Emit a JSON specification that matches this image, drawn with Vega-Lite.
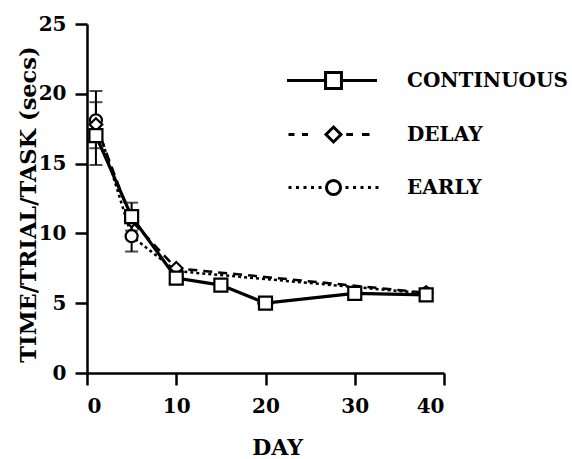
{
  "$schema": "https://vega.github.io/schema/vega-lite/v6.json",
  "autosize": {"type": "none"},
  "padding": {"left": 87, "top": 24, "right": 128, "bottom": 86},
  "width": 357,
  "height": 349,
  "background": "white",
  "config": {
    "view": {"stroke": null},
    "font": "DejaVu Serif",
    "axis": {
      "grid": false,
      "domainColor": "black",
      "domainWidth": 2.5,
      "tickColor": "black",
      "tickWidth": 2.5,
      "tickSize": 12,
      "labelFont": "DejaVu Serif",
      "labelFontWeight": "bold",
      "labelFontSize": 20,
      "labelColor": "black",
      "titleFont": "DejaVu Serif",
      "titleFontWeight": "bold",
      "titleColor": "black"
    }
  },
  "data": {
    "values": [
      {"group": "CONTINUOUS", "day": 1, "value": 17.0, "lo": 16.1, "hi": 19.4},
      {"group": "CONTINUOUS", "day": 5, "value": 11.2, "lo": 10.2, "hi": 12.2},
      {"group": "CONTINUOUS", "day": 10, "value": 6.8},
      {"group": "CONTINUOUS", "day": 15, "value": 6.3},
      {"group": "CONTINUOUS", "day": 20, "value": 5.0},
      {"group": "CONTINUOUS", "day": 30, "value": 5.7},
      {"group": "CONTINUOUS", "day": 38, "value": 5.6},
      {"group": "DELAY", "day": 1, "value": 17.8, "lo": 14.9, "hi": 20.2},
      {"group": "DELAY", "day": 5, "value": 10.9},
      {"group": "DELAY", "day": 10, "value": 7.5},
      {"group": "DELAY", "day": 38, "value": 5.75},
      {"group": "EARLY", "day": 1, "value": 18.1},
      {"group": "EARLY", "day": 5, "value": 9.8, "lo": 8.7, "hi": 10.9},
      {"group": "EARLY", "day": 10, "value": 7.3},
      {"group": "EARLY", "day": 38, "value": 5.7}
    ]
  },
  "encoding": {
    "x": {
      "field": "day",
      "type": "quantitative",
      "scale": {"domain": [0, 40], "nice": false, "zero": false},
      "axis": {
        "values": [0, 10, 20, 30, 40],
        "title": "DAY",
        "titleFontSize": 22,
        "titleColor": "black",
        "titleX": 190,
        "titleY": 81,
        "titleBaseline": "alphabetic",
        "labelPadding": 11,
        "labelBaseline": "top"
      }
    },
    "y": {
      "field": "value",
      "type": "quantitative",
      "scale": {"domain": [0, 25], "nice": false},
      "axis": {
        "values": [0, 5, 10, 15, 20, 25],
        "title": "TIME/TRIAL/TASK (secs)",
        "titleFontSize": 22.5,
        "titleColor": "black",
        "titleX": -59,
        "titleY": 180,
        "titleBaseline": "middle",
        "labelPadding": 9
      }
    }
  },
  "layer": [
    {
      "transform": [{"filter": "isValid(datum.lo)"}],
      "mark": {"type": "rule", "color": "black", "strokeWidth": 2},
      "encoding": {
        "y": {"field": "lo", "type": "quantitative"},
        "y2": {"field": "hi"}
      }
    },
    {
      "transform": [{"filter": "isValid(datum.lo)"}],
      "mark": {"type": "tick", "orient": "horizontal", "color": "black", "size": 13, "thickness": 2},
      "encoding": {"y": {"field": "lo", "type": "quantitative"}}
    },
    {
      "transform": [{"filter": "isValid(datum.hi)"}],
      "mark": {"type": "tick", "orient": "horizontal", "color": "black", "size": 13, "thickness": 2},
      "encoding": {"y": {"field": "hi", "type": "quantitative"}}
    },
    {
      "transform": [{"filter": "datum.group === 'EARLY'"}],
      "mark": {"type": "line", "color": "black", "strokeWidth": 2.5, "strokeDash": [3, 3]},
      "encoding": {}
    },
    {
      "transform": [{"filter": "datum.group === 'DELAY'"}],
      "mark": {"type": "line", "color": "black", "strokeWidth": 2.5, "strokeDash": [9, 6]},
      "encoding": {}
    },
    {
      "transform": [{"filter": "datum.group === 'CONTINUOUS'"}],
      "mark": {"type": "line", "color": "black", "strokeWidth": 3.2},
      "encoding": {}
    },
    {
      "transform": [{"filter": "datum.group === 'CONTINUOUS' && datum.day === 20"}],
      "mark": {"type": "point", "filled": false, "color": "black", "strokeWidth": 3},
      "encoding": {
        "shape": {
          "field": "group",
          "type": "nominal",
          "scale": {
            "domain": ["CONTINUOUS", "DELAY", "EARLY"],
            "range": [
              "M-3.1,0H-0.53M0.53,0H2.9M-0.53,-0.53H0.53V0.53H-0.53Z",
              "M-3,0H-2.6M-2.1,0H-1.7M0.85,0H1.3M1.9,0H2.4M0,-0.5L0.5,0L0,0.5L-0.5,0Z",
              "M-3,0H-2.8M-2.5,0H-2.3M-2,0H-1.8M-1.5,0H-1.3M-1,0H-0.8M0.8,0H1M1.3,0H1.5M1.8,0H2M2.3,0H2.5M2.8,0H3M0.47,0A0.47,0.47 0 1,1 -0.47,0A0.47,0.47 0 1,1 0.47,0Z"
            ]
          },
          "legend": {
            "title": null,
            "orient": "none",
            "legendX": 230,
            "legendY": 40,
            "padding": 0,
            "symbolSize": 900,
            "symbolOpacity": 1,
            "symbolFillColor": "white",
            "symbolStrokeColor": "black",
            "symbolStrokeWidth": 3,
            "rowPadding": 23,
            "labelOffset": 57,
            "labelLimit": 400,
            "labelFont": "DejaVu Serif",
            "labelFontWeight": "bold",
            "labelFontSize": 20,
            "labelColor": "black",
            "labelBaseline": "middle"
          }
        }
      }
    },
    {
      "transform": [{"filter": "datum.group === 'EARLY'"}],
      "mark": {"type": "point", "shape": "circle", "filled": false, "fill": "white", "fillOpacity": 1, "stroke": "black", "strokeWidth": 2.2, "opacity": 1, "size": 144},
      "encoding": {}
    },
    {
      "transform": [{"filter": "datum.group === 'DELAY'"}],
      "mark": {"type": "point", "shape": "diamond", "filled": false, "fill": "white", "fillOpacity": 1, "stroke": "black", "strokeWidth": 2.2, "opacity": 1, "size": 160},
      "encoding": {}
    },
    {
      "transform": [{"filter": "datum.group === 'CONTINUOUS'"}],
      "mark": {"type": "point", "shape": "square", "filled": false, "fill": "white", "fillOpacity": 1, "stroke": "black", "strokeWidth": 2.2, "opacity": 1, "size": 169},
      "encoding": {}
    }
  ]
}
